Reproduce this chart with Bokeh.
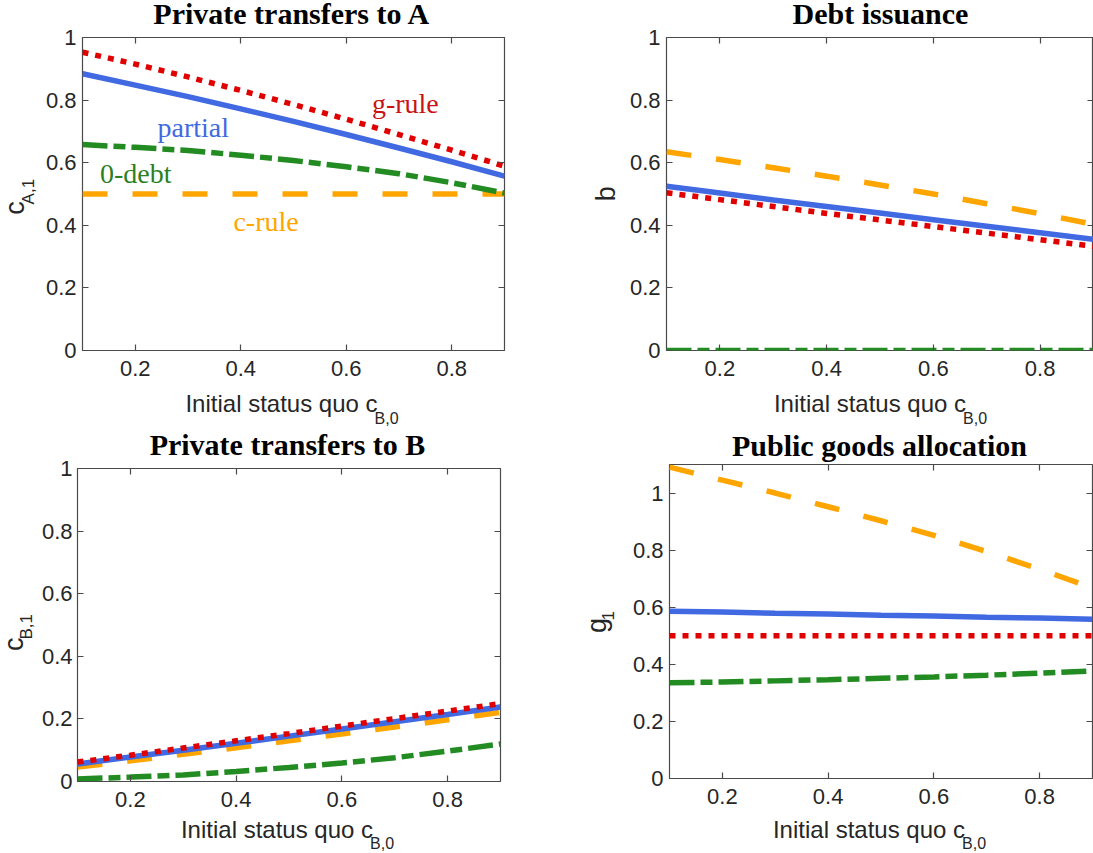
import math
from bokeh.plotting import figure
from bokeh.layouts import column, row
from bokeh.models import LinearAxis, FixedTicker, Range1d, CustomJSTickFormatter
from bokeh.core.properties import value
from bokeh.embed import file_html
from bokeh.resources import INLINE

# ---------------- data ----------------
x_status_quo = [0.1, 0.2, 0.3, 0.4, 0.5, 0.6, 0.7, 0.8, 0.9]
x_ticks = [0.2, 0.4, 0.6, 0.8]
x_tick_labels = ["0.2", "0.4", "0.6", "0.8"]
y_ticks = [0.0, 0.2, 0.4, 0.6, 0.8, 1.0]
y_tick_labels = ["0", "0.2", "0.4", "0.6", "0.8", "1"]

titles = ["Private transfers to A", "Debt issuance",
          "Private transfers to B", "Public goods allocation"]
x_label_main = "Initial status quo c"
x_label_sub = "B,0"
y_label_main = ["c", "b", "c", "g"]
y_label_sub = ["A,1", "", "B,1", "1"]

# Panel 1: private transfers to A  (c_A,1)
cA1_partial = [0.884, 0.848, 0.811, 0.772, 0.732, 0.690, 0.647, 0.603, 0.557]
cA1_grule = [0.953, 0.915, 0.874, 0.831, 0.786, 0.739, 0.690, 0.640, 0.589]
cA1_zerodebt = [0.658, 0.649, 0.639, 0.624, 0.607, 0.587, 0.565, 0.536, 0.503]
cA1_crule = [0.500, 0.500, 0.500, 0.500, 0.500, 0.500, 0.500, 0.500, 0.500]

# Panel 2: debt issuance (b)
b_partial = [0.525, 0.503, 0.481, 0.460, 0.439, 0.418, 0.397, 0.376, 0.355]
b_grule = [0.504, 0.482, 0.460, 0.438, 0.417, 0.396, 0.375, 0.354, 0.333]
b_zerodebt = [0.0, 0.0, 0.0, 0.0, 0.0, 0.0, 0.0, 0.0, 0.0]
b_crule = [0.635, 0.610, 0.584, 0.557, 0.529, 0.500, 0.469, 0.437, 0.403]

# Panel 3: private transfers to B (c_B,1)
cB1_partial = [0.056, 0.078, 0.100, 0.122, 0.145, 0.168, 0.191, 0.214, 0.238]
cB1_grule = [0.062, 0.084, 0.107, 0.130, 0.153, 0.177, 0.201, 0.225, 0.249]
cB1_zerodebt = [0.008, 0.014, 0.021, 0.032, 0.045, 0.059, 0.076, 0.097, 0.120]
cB1_crule = [0.046, 0.066, 0.087, 0.108, 0.130, 0.152, 0.174, 0.197, 0.221]

# Panel 4: public goods allocation (g_1)
g1_partial = [0.586, 0.583, 0.579, 0.576, 0.572, 0.569, 0.565, 0.562, 0.558]
g1_grule = [0.500, 0.500, 0.500, 0.500, 0.500, 0.500, 0.500, 0.500, 0.500]
g1_zerodebt = [0.335, 0.338, 0.342, 0.346, 0.351, 0.356, 0.362, 0.369, 0.377]
g1_crule = [1.091, 1.045, 1.000, 0.952, 0.903, 0.852, 0.795, 0.733, 0.668]

# in-plot annotations (panel 1), data coordinates of the text centres
annot_text = ["g-rule", "partial", "0-debt", "c-rule"]
annot_x = [0.712, 0.310, 0.201, 0.448]
annot_y = [0.790, 0.714, 0.564, 0.413]

# ---------------- styles ----------------
COL = {"partial": "#4169E1", "g-rule": "#E00000", "0-debt": "#228B22", "c-rule": "#FFA500"}
TXT_COL = {"partial": "#4169E1", "g-rule": "#C81414", "0-debt": "#2D7F1F", "c-rule": "#FFA500"}
DASH = {"partial": "solid", "g-rule": "6 7", "0-debt": "25 6 12 6", "c-rule": "25 25"}
LW = 5.5
FRAME = "#4a4a4a"
TXT = "#262626"
SANS = "Liberation Sans"
SERIF = "Liberation Serif"
TICK_SIZE = "22px"
LAB_SIZE = 24
SUB_SIZE = 16
YLAB_SIZE = 27
YSUB_SIZE = 17
TITLE_SIZE = 30
SANS_MID = 0.3465   # em-box middle above the baseline (Liberation Sans)
SANS_ASC = 0.905
SERIF_MID = 0.3375  # (Liberation Serif)
ROT_DX, ROT_DY = -2, 19   # placement correction for rotated text


def style_axis(ax, ticks, labels, show):
    ax.ticker = FixedTicker(ticks=ticks)
    ax.minor_tick_line_color = None
    ax.major_tick_in = 6
    ax.major_tick_out = 0
    ax.major_tick_line_color = FRAME
    ax.major_tick_line_width = 1.2
    ax.axis_line_color = None
    if show:
        ax.major_label_overrides = {t: l for t, l in zip(ticks, labels)}
        ax.major_label_text_font = SANS
        ax.major_label_text_color = TXT
        ax.major_label_text_font_size = TICK_SIZE
    else:
        ax.formatter = CustomJSTickFormatter(code="return ''")
        ax.major_label_text_font_size = "1px"
        ax.major_label_standoff = 0


def make_panel(width, height, bl, br, bt, bb, y_end, ystand=6):
    p = figure(width=width, height=height,
               x_range=Range1d(0.1, 0.9), y_range=Range1d(0, y_end),
               output_backend="svg", toolbar_location=None,
               min_border_left=bl, min_border_right=br,
               min_border_top=bt, min_border_bottom=bb,
               background_fill_color="white", border_fill_color="white")
    p.grid.visible = False
    p.outline_line_color = FRAME
    p.outline_line_width = 1.2
    style_axis(p.xaxis[0], x_ticks, x_tick_labels, True)
    style_axis(p.yaxis[0], y_ticks, y_tick_labels, True)
    p.xaxis[0].major_label_standoff = 10
    p.yaxis[0].major_label_standoff = ystand
    top = LinearAxis()
    style_axis(top, x_ticks, x_tick_labels, False)
    p.add_layout(top, "above")
    right = LinearAxis()
    style_axis(right, y_ticks, y_tick_labels, False)
    p.add_layout(right, "right")
    return p


def strip(x0, y0, w, h):
    """A text-only strip whose coordinates are page pixels (y downwards)."""
    s = figure(width=w, height=h, x_range=Range1d(x0, x0 + w),
               y_range=Range1d(y0 + h, y0), x_axis_type=None, y_axis_type=None,
               output_backend="svg", toolbar_location=None,
               min_border_left=0, min_border_right=0, min_border_top=0,
               min_border_bottom=0, background_fill_color="white",
               border_fill_color="white")
    s.outline_line_color = None
    s.grid.visible = False
    return s


def put(s, x, y, t, size, font=SANS, color=TXT, align="left",
        baseline="middle", angle=0.0, style="normal"):
    s.text(x=[x], y=[y], text=[t], text_font=value(font),
           text_font_size=value(f"{size}px"), text_color=color,
           text_align=align, text_baseline=baseline, angle=angle,
           text_font_style=value(style), text_line_height=1.0)


def title(s, cx, base, t):
    put(s, cx, base - SERIF_MID * TITLE_SIZE, t, TITLE_SIZE, font=SERIF,
        color="black", align="center", style="bold")


def draw_series(p, values):
    for name in ["c-rule", "0-debt", "partial", "g-rule"]:
        p.line(x_status_quo, values[name], line_color=COL[name],
               line_width=LW, line_dash=DASH[name])


def x_label(s, cx, base, sub_base):
    main_w = 8.004 * LAB_SIZE
    sub_w = 1.5 * SUB_SIZE
    start = cx - (main_w + sub_w - 3) / 2
    put(s, start, base - SANS_MID * LAB_SIZE, x_label_main, LAB_SIZE)
    put(s, start + main_w - 3, sub_base - SANS_MID * SUB_SIZE, x_label_sub, SUB_SIZE)


def y_label(s, idx, main_base_x, main_start_y, sub_base_x=None, sub_start_y=None):
    put(s, main_base_x - SANS_ASC * YLAB_SIZE + ROT_DX, main_start_y + ROT_DY,
        y_label_main[idx], YLAB_SIZE, baseline="top", angle=math.pi / 2)
    if y_label_sub[idx]:
        put(s, sub_base_x - SANS_ASC * YSUB_SIZE + ROT_DX, sub_start_y + ROT_DY,
            y_label_sub[idx], YSUB_SIZE, baseline="top", angle=math.pi / 2)


# ---------------- top row ----------------
top_strip = strip(0, 0, 1093, 27)
title(top_strip, 291.5, 23.5, titles[0])
title(top_strip, 880, 23.5, titles[1])

ylab1 = strip(0, 27, 42, 362)
y_label(ylab1, 0, 26, 213, 36, 201)
ylab2 = strip(560, 27, 66, 362)
y_label(ylab2, 1, 617, 197.5)

p1 = make_panel(518, 362, 37, 56, 10, 39, 1.0)
draw_series(p1, {"partial": cA1_partial, "g-rule": cA1_grule,
                 "0-debt": cA1_zerodebt, "c-rule": cA1_crule})
p1.text(x=annot_x, y=annot_y, text=annot_text,
        text_font=value(SERIF), text_font_size=value("28px"),
        text_color=[TXT_COL[t] for t in annot_text],
        text_align="center", text_baseline="middle")

p2 = make_panel(467, 362, 37, 0, 10, 38, 1.0)
draw_series(p2, {"partial": b_partial, "g-rule": b_grule,
                 "0-debt": b_zerodebt, "c-rule": b_crule})

# ---------------- bottom-left ----------------
mid_left = strip(0, 389, 560, 70)
x_label(mid_left, 291.5, 411, 424)
title(mid_left, 287, 454, titles[2])

ylab3 = strip(0, 459, 38, 355)
y_label(ylab3, 2, 25, 647, 34, 634)

p3 = make_panel(522, 355, 36, 60, 9, 33, 1.0, ystand=5)
draw_series(p3, {"partial": cB1_partial, "g-rule": cB1_grule,
                 "0-debt": cB1_zerodebt, "c-rule": cB1_crule})

# ---------------- bottom-right ----------------
mid_right = strip(560, 389, 533, 73)
x_label(mid_right, 880, 411, 424)
title(mid_right, 879, 455, titles[3])

ylab4 = strip(560, 462, 69, 352)
y_label(ylab4, 3, 607.5, 632, 619, 618)

p4 = make_panel(464, 352, 37, 1, 2, 36, 1.1)
draw_series(p4, {"partial": g1_partial, "g-rule": g1_grule,
                 "0-debt": g1_zerodebt, "c-rule": g1_crule})

# ---------------- bottom strip ----------------
bot_strip = strip(0, 814, 1093, 39)
x_label(bot_strip, 287, 837, 849)
x_label(bot_strip, 879, 837, 849)

layout = column(top_strip,
                row(ylab1, p1, ylab2, p2),
                row(column(mid_left, row(ylab3, p3)),
                    column(mid_right, row(ylab4, p4))),
                bot_strip)
open("out.html", "w").write(file_html(layout, INLINE))
